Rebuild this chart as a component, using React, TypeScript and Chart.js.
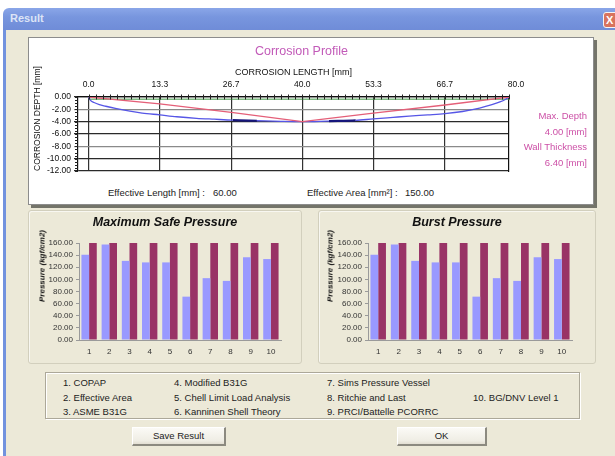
import React, { useEffect, useRef } from 'react';
import { Chart, registerables } from 'chart.js';

Chart.register(...registerables);

const FONT = "'Liberation Sans', Arial, Helvetica, sans-serif";
Chart.defaults.font.family = FONT;

// ---------- Corrosion profile data ----------
const LENGTH_TICKS = [0, 13.33, 26.67, 40, 53.33, 66.67, 80];
const LENGTH_MIN = -2;
const LENGTH_MAX = 78.7;
const LENGTH_MINOR = 1.3333;
const DEPTH_MIN = -12;
const DEPTH_MAX = 0;
const DEPTH_STEP = 2;
const DEPTH_MINOR = 0.5;

const PROFILE_X = [0, 0.3, 1, 2, 3.2, 5, 7.7, 10, 13.3, 16.5, 20.2, 23.5, 27, 31.5, 36, 40, 45, 50, 53.3, 57, 60, 63.5, 66.7, 70, 73.2, 75.5, 77, 78, 78.7];
const PROFILE_Y = [0, -0.5, -0.9, -1.25, -1.5, -1.85, -2.3, -2.6, -2.9, -3.2, -3.45, -3.6, -3.75, -3.85, -3.95, -4.0, -3.9, -3.8, -3.55, -3.3, -3.1, -2.9, -2.7, -2.35, -1.8, -1.25, -0.8, -0.4, 0];
const PROFILE_DARK = [[27, 31.5], [45, 50]];

const LINEAR_X = [0, 13.3, 26.7, 40, 53.3, 66.7, 78.7];
const LINEAR_Y = [0, -1.1, -2.5, -4, -2.6, -1.3, 0];

const REF_X = [0, 78.7];
const REF_Y = [-0.35, -0.35];

// ---------- Pressure data ----------
const METHODS = ['1', '2', '3', '4', '5', '6', '7', '8', '9', '10'];
const SAFE_CALC = [140.5, 157.5, 130.5, 128, 128, 71.5, 102, 97.5, 136.5, 133.5];
const SAFE_LIMIT = [160, 160, 160, 160, 160, 160, 160, 160, 160, 160];
const BURST_CALC = [140.5, 157.5, 130.5, 128, 128, 71.5, 102, 97.5, 136.5, 133.5];
const BURST_LIMIT = [160, 160, 160, 160, 160, 160, 160, 160, 160, 160];
const PRESSURE_MAX = 160;
const PRESSURE_STEP = 20;

const LEGEND_COL1 = ['1. COPAP', '2. Effective Area', '3. ASME B31G'];
const LEGEND_COL2 = ['4. Modified B31G', '5. Chell Limit Load Analysis', '6. Kanninen Shell Theory'];
const LEGEND_COL3 = ['7. Sims Pressure Vessel', '8. Ritchie and Last', '9. PRCI/Battelle PCORRC'];
const LEGEND_COL4 = ['', '10. BG/DNV Level 1', ''];

const minorTicks = {
  id: 'minorTicks',
  afterDatasetsDraw(chart: any) {
    const { ctx, chartArea } = chart;
    const x = chart.scales.x;
    const y = chart.scales.y;
    ctx.save();
    ctx.strokeStyle = '#222';
    ctx.lineWidth = 1;
    ctx.beginPath();
    for (let v = DEPTH_MIN; v <= DEPTH_MAX + 1e-9; v += DEPTH_MINOR) {
      const py = Math.round(y.getPixelForValue(v)) + 0.5;
      ctx.moveTo(chartArea.left - 3, py);
      ctx.lineTo(chartArea.left, py);
    }
    for (let v = 0; v <= LENGTH_MAX; v += LENGTH_MINOR) {
      const px = Math.round(x.getPixelForValue(v)) + 0.5;
      ctx.moveTo(px, chartArea.top - 2.5);
      ctx.lineTo(px, chartArea.top + 2.5);
    }
    ctx.stroke();
    ctx.restore();
  },
};

function ProfileChart() {
  const ref = useRef<HTMLCanvasElement>(null);
  useEffect(() => {
    const pts = (xs: number[], ys: number[]) => xs.map((x, i) => ({ x, y: ys[i] }));
    const chart = new Chart(ref.current as HTMLCanvasElement, {
      type: 'line',
      data: {
        datasets: [
          { data: pts(LINEAR_X, LINEAR_Y), borderColor: '#e45f78', borderWidth: 1.3, pointRadius: 0, tension: 0 },
          {
            data: pts(PROFILE_X, PROFILE_Y), borderColor: '#5656e6', borderWidth: 1.3, pointRadius: 0,
            cubicInterpolationMode: 'monotone',
            segment: {
              borderColor: (c: any) => {
                const xm = (c.p0.parsed.x + c.p1.parsed.x) / 2;
                return PROFILE_DARK.some(([a, b]) => xm >= a && xm <= b) ? '#16167c' : undefined;
              },
              borderWidth: (c: any) => {
                const xm = (c.p0.parsed.x + c.p1.parsed.x) / 2;
                return PROFILE_DARK.some(([a, b]) => xm >= a && xm <= b) ? 2.2 : undefined;
              },
            },
          },
          { data: pts(REF_X, REF_Y), borderColor: '#3f9a45', borderWidth: 1, pointRadius: 0 },
        ],
      } as any,
      options: {
        responsive: false,
        animation: false,
        layout: { padding: { left: 0, right: 0, top: 0, bottom: 16 } },
        plugins: {
          legend: { display: false },
          tooltip: { enabled: false },
          title: {
            display: true, text: 'Corrosion Profile', color: '#c25ab8',
            font: { family: FONT, size: 12.5, weight: 'normal', lineHeight: 1.2 },
            padding: { top: 7.5, bottom: 0 },
          },
        },
        scales: {
          x: {
            type: 'linear', position: 'top', min: LENGTH_MIN, max: LENGTH_MAX,
            afterBuildTicks: (s: any) => { s.ticks = LENGTH_TICKS.map((v) => ({ value: v })); },
            ticks: { autoSkip: false, maxRotation: 0, padding: 7, color: '#111', font: { size: 8.5 }, callback: (v: any) => Number(v).toFixed(1) },
            grid: {
              drawTicks: false, lineWidth: 1.2,
              color: (c: any) => (c.tick && c.tick.value > LENGTH_MAX) ? 'rgba(0,0,0,0)' : '#333',
            },
            border: { color: '#111', width: 1.2 },
            title: { display: true, text: 'CORROSION LENGTH [mm]', color: '#111', font: { size: 9 }, padding: { top: 8, bottom: 0 } },
            afterFit: (s: any) => { s.height = 37.5; },
          },
          y: {
            min: DEPTH_MIN, max: DEPTH_MAX,
            ticks: { autoSkip: false, stepSize: DEPTH_STEP, padding: 3, color: '#111', font: { size: 8.5 }, callback: (v: any) => Number(v).toFixed(2) },
            grid: {
              drawTicks: true, tickLength: 4, lineWidth: 1.2,
              color: (c: any) => {
                const v = c.tick ? c.tick.value : 0;
                return v === -2 || v === -8 ? '#8a8a8a' : '#2a2a2a';
              },
            },
            border: { color: '#111', width: 1.2 },
            title: { display: true, text: 'CORROSION DEPTH [mm]', align: 'start', color: '#111', font: { size: 8.5 }, padding: { top: 5, bottom: 0 } },
            afterFit: (s: any) => { s.width = 50; },
          },
          yr: {
            position: 'right', min: 0, max: 1,
            ticks: { display: false }, grid: { display: false, drawTicks: false },
            border: { display: true, color: '#111', width: 1.2 },
            afterFit: (s: any) => { s.width = 66; },
          },
        },
      } as any,
      plugins: [minorTicks],
    });
    return () => chart.destroy();
  }, []);
  return (
    <canvas ref={ref} width={547} height={150}
      style={{ position: 'absolute', left: 28, top: 37, width: 547, height: 150 }} />
  );
}

function PressureChart(props: any) {
  const { left, top, width, height, title, calc, limit, axisWidth, spacer } = props;
  const ref = useRef<HTMLCanvasElement>(null);
  useEffect(() => {
    const chart = new Chart(ref.current as HTMLCanvasElement, {
      type: 'bar',
      data: {
        labels: METHODS,
        datasets: [
          { data: calc, backgroundColor: '#9999ff', borderWidth: 0, categoryPercentage: 0.76, barPercentage: 1 },
          { data: limit, backgroundColor: '#993366', borderWidth: 0, categoryPercentage: 0.76, barPercentage: 1 },
        ],
      },
      options: {
        responsive: false,
        animation: false,
        layout: { padding: 0 },
        plugins: {
          legend: { display: false },
          tooltip: { enabled: false },
          title: {
            display: true, text: title, color: '#111',
            font: { family: FONT, size: 12.5, weight: 'bold', style: 'italic', lineHeight: 1.2 },
            padding: { top: 3, bottom: 13 },
          },
        },
        scales: {
          x: {
            grid: { display: false, drawTicks: false },
            border: { display: true, color: '#9a9a9a' },
            ticks: { autoSkip: false, maxRotation: 0, padding: 7, color: '#333', font: { size: 8 } },
            afterFit: (s: any) => { s.height = 22; },
          },
          y: {
            min: 0, max: PRESSURE_MAX,
            ticks: { autoSkip: false, stepSize: PRESSURE_STEP, padding: 3, color: '#333', font: { size: 8 }, callback: (v: any) => Number(v).toFixed(2) },
            grid: { drawOnChartArea: false, drawTicks: true, tickLength: 3, color: '#9a9a9a' },
            border: { color: '#9a9a9a' },
            afterFit: (s: any) => { s.width = axisWidth; },
          },
          yr: {
            position: 'right', min: 0, max: 1,
            ticks: { display: false }, grid: { display: false, drawTicks: false },
            border: { display: false },
            afterFit: (s: any) => { s.width = spacer; },
          },
        },
      } as any,
    });
    return () => chart.destroy();
  }, []);
  return (
    <canvas ref={ref} width={width} height={height}
      style={{ position: 'absolute', left, top, width, height }} />
  );
}

const txt = (x: number, y: number, s: string, extra: any = {}) => (
  <div style={{
    position: 'absolute', left: x, top: y - 6, fontSize: 9.5, lineHeight: '12px',
    whiteSpace: 'nowrap', color: '#222', fontFamily: FONT, ...extra,
  }}>{s}</div>
);

function Button(props: any) {
  const { left, width, label } = props;
  return (
    <div style={{
      position: 'absolute', left, top: 427, width, height: 19, boxSizing: 'border-box',
      background: 'linear-gradient(#fbfaf6, #efede4 80%, #e2ded2)',
      borderTop: '1px solid #ffffff', borderLeft: '1px solid #ffffff',
      borderRight: '2px solid #8c8a80', borderBottom: '2px solid #8c8a80',
      fontFamily: FONT, fontSize: 9.5, color: '#222', textAlign: 'center', lineHeight: '16px',
    }}>{label}</div>
  );
}

const rotTitle = (cx: number, cy: number, s: string) => (
  <div style={{
    position: 'absolute', left: cx, top: cy, transform: 'translate(-50%, -50%) rotate(-90deg)',
    fontFamily: FONT, fontSize: 8, lineHeight: '9px', fontWeight: 'bold', fontStyle: 'italic', color: '#111', whiteSpace: 'nowrap',
  }}>{s}</div>
);

export default function App() {
  const rowsY = [383, 398, 412];
  const cols = [
    { x: 63, items: LEGEND_COL1 },
    { x: 174, items: LEGEND_COL2 },
    { x: 327, items: LEGEND_COL3 },
    { x: 473, items: LEGEND_COL4 },
  ];
  return (
    <div style={{ position: 'absolute', left: 0, top: 0, width: 615, height: 456, overflow: 'hidden', background: '#ffffff', fontFamily: FONT }}>
      {/* title bar */}
      <div style={{
        position: 'absolute', left: 3, top: 8, width: 620, height: 22,
        background: 'linear-gradient(#8aa6e8, #7896de 40%, #6f8cd8)', borderRadius: '6px 0 0 0',
      }} />
      <div style={{ position: 'absolute', left: 10, top: 12, fontSize: 11, fontWeight: 'bold', color: '#dce4f6', fontFamily: FONT }}>Result</div>
      <div style={{
        position: 'absolute', left: 603, top: 12, width: 16, height: 16, boxSizing: 'border-box',
        background: '#d8735e', border: '1px solid #f4f4f4', borderRadius: 3, color: '#fff',
        fontSize: 11, fontWeight: 'bold', lineHeight: '14px', textAlign: 'left', paddingLeft: 2,
      }}>X</div>
      {/* window frame + body */}
      <div style={{ position: 'absolute', left: 3, top: 30, width: 3, height: 426, background: '#7292de' }} />
      <div style={{ position: 'absolute', left: 6, top: 30, width: 609, height: 426, background: '#ece9d8' }} />

      {/* profile panel */}
      <div style={{
        position: 'absolute', left: 28, top: 37, width: 566, height: 168, boxSizing: 'border-box',
        background: '#ffffff', border: '1px solid #8c8c8c', boxShadow: '3px 3px 0 #74746a',
      }} />
      <ProfileChart />
      {txt(108, 193, 'Effective Length [mm] :')}
      {txt(213, 193, '60.00')}
      {txt(307, 193, 'Effective Area [mm²] :')}
      {txt(405, 193, '150.00')}
      {txt(487, 116, 'Max. Depth', { width: 100, textAlign: 'right', color: '#cc4fa6' })}
      {txt(487, 132, '4.00 [mm]', { width: 100, textAlign: 'right', color: '#cc4fa6' })}
      {txt(487, 147, 'Wall Thickness', { width: 100, textAlign: 'right', color: '#cc4fa6' })}
      {txt(487, 163, '6.40 [mm]', { width: 100, textAlign: 'right', color: '#cc4fa6' })}

      {/* group boxes */}
      <div style={{ position: 'absolute', left: 28, top: 210, width: 274, height: 154, boxSizing: 'border-box', border: '1px solid #d2cfbd', borderRadius: 3, boxShadow: 'inset 1px 1px 0 #f8f7f1' }} />
      <div style={{ position: 'absolute', left: 318, top: 210, width: 278, height: 154, boxSizing: 'border-box', border: '1px solid #d2cfbd', borderRadius: 3, boxShadow: 'inset 1px 1px 0 #f8f7f1' }} />
      <PressureChart left={28} top={212} width={274} height={150} title="Maximum Safe Pressure"
        calc={SAFE_CALC} limit={SAFE_LIMIT} axisWidth={51} spacer={21} />
      <PressureChart left={318} top={212} width={278} height={150} title="Burst Pressure"
        calc={BURST_CALC} limit={BURST_LIMIT} axisWidth={50} spacer={24} />
      {rotTitle(42, 266, 'Pressure (kgf/cm2)')}
      {rotTitle(330, 266, 'Pressure (kgf/cm2)')}

      {/* legend box */}
      <div style={{ position: 'absolute', left: 45, top: 372, width: 535, height: 47, boxSizing: 'border-box', border: '1px solid #aca899', boxShadow: '1px 1px 0 #ffffff, inset 1px 1px 0 #ffffff' }} />
      {cols.map((c) => c.items.map((s, i) => (s ? <React.Fragment key={c.x + '-' + i}>{txt(c.x, rowsY[i], s)}</React.Fragment> : null)))}

      <Button left={132} width={94} label="Save Result" />
      <Button left={397} width={90} label="OK" />
    </div>
  );
}
